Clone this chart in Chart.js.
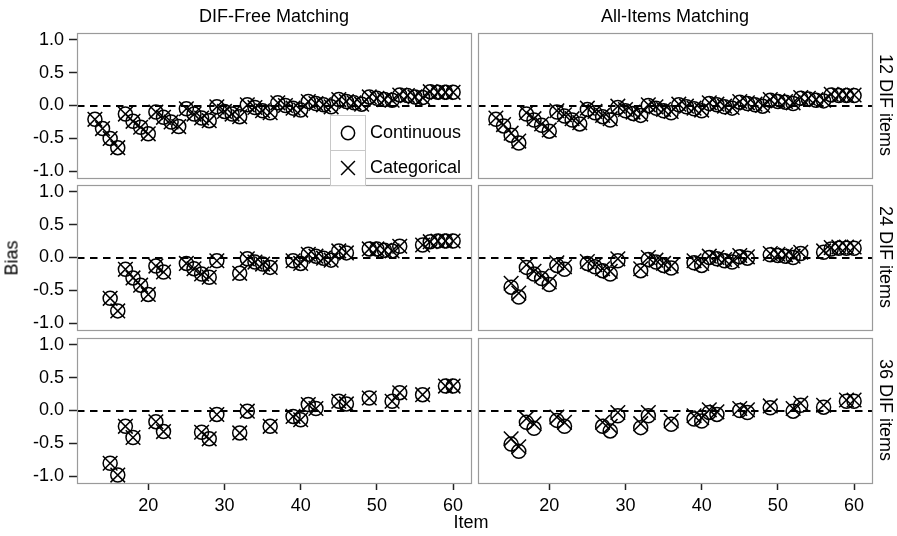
<!DOCTYPE html>
<html>
<head>
<meta charset="utf-8">
<title>Bias by item</title>
<script src="https://cdn.jsdelivr.net/npm/chart.js@4.4.1/dist/chart.umd.min.js"></script>
<style>
  body { margin: 0; background: #fff; }
  #wrap { position: relative; width: 897px; height: 536px; overflow: hidden;
          font-family: "Liberation Sans", Arial, Helvetica, sans-serif; color: #000; }
  #wrap canvas { position: absolute; left: 0; top: 0; }
  .lbl { position: absolute; font-size: 18px; white-space: nowrap; transform: translate(-50%, -50%); }
  .lbl.down { transform: translate(-50%, -50%) rotate(90deg); }
  .lbl.up { transform: translate(-50%, -50%) rotate(-90deg); }
</style>
</head>
<body>
<div id="wrap">
  <canvas id="p12ai" width="897" height="536"></canvas>
  <canvas id="p24df" width="897" height="536"></canvas>
  <canvas id="p24ai" width="897" height="536"></canvas>
  <canvas id="p36df" width="897" height="536"></canvas>
  <canvas id="p36ai" width="897" height="536"></canvas>
  <canvas id="p12df" width="897" height="536"></canvas>

  <div class="lbl" style="left:274px; top:16px;">DIF-Free Matching</div>
  <div class="lbl" style="left:675px; top:16px;">All-Items Matching</div>
  <div class="lbl down" style="left:885px; top:105px;">12 DIF items</div>
  <div class="lbl down" style="left:885px; top:257px;">24 DIF items</div>
  <div class="lbl down" style="left:885px; top:410px;">36 DIF items</div>
  <div class="lbl up" style="left:12px; top:258px;">Bias</div>
  <div class="lbl" style="left:471px; top:522px;">Item</div>
</div>

<script>
"use strict";

// items shown in each row (non-DIF items)
const items12 = [13, 14, 15, 16, 17, 18, 19, 20, 21, 22, 23, 24, 25, 26, 27, 28,
                 29, 30, 31, 32, 33, 34, 35, 36, 37, 38, 39, 40, 41, 42, 43, 44,
                 45, 46, 47, 48, 49, 50, 51, 52, 53, 54, 55, 56, 57, 58, 59, 60];
const items24 = [15, 16, 17, 18, 19, 20, 21, 22, 25, 26, 27, 28, 29, 32, 33, 34, 35, 36,
                 39, 40, 41, 42, 43, 44, 45, 46, 49, 50, 51, 52, 53, 56, 57, 58, 59, 60];
const items36 = [15, 16, 17, 18, 21, 22, 27, 28, 29, 32, 33, 36,
                 39, 40, 41, 42, 45, 46, 49, 52, 53, 56, 59, 60];

// DIF-free matching, 12 DIF items
const dfCont12 = [-0.21, -0.35, -0.50, -0.64, -0.13, -0.24, -0.33, -0.43, -0.10, -0.18, -0.25, -0.32,
                  -0.05, -0.13, -0.19, -0.23, -0.02, -0.09, -0.13, -0.17, 0.01, -0.03, -0.08, -0.11,
                  0.04, 0.00, -0.04, -0.07, 0.06, 0.03, 0.01, -0.02, 0.09, 0.06, 0.04, 0.02,
                  0.13, 0.11, 0.09, 0.08, 0.16, 0.15, 0.13, 0.12, 0.21, 0.20, 0.20, 0.20];
const dfCat12  = [-0.21, -0.35, -0.50, -0.64, -0.13, -0.24, -0.33, -0.43, -0.10, -0.18, -0.25, -0.32,
                  -0.05, -0.13, -0.19, -0.23, -0.02, -0.09, -0.13, -0.17, 0.01, -0.03, -0.08, -0.11,
                  0.04, 0.00, -0.04, -0.07, 0.06, 0.03, 0.01, -0.02, 0.09, 0.06, 0.04, 0.02,
                  0.13, 0.11, 0.09, 0.08, 0.16, 0.15, 0.13, 0.12, 0.21, 0.20, 0.20, 0.20];
// all-items matching, 12 DIF items
const aiCont12 = [-0.21, -0.31, -0.45, -0.57, -0.13, -0.22, -0.30, -0.39, -0.10, -0.16, -0.22, -0.28,
                  -0.06, -0.11, -0.17, -0.22, -0.03, -0.08, -0.12, -0.15, 0.00, -0.04, -0.08, -0.11,
                  0.01, -0.02, -0.05, -0.08, 0.03, 0.01, -0.02, -0.04, 0.05, 0.03, 0.01, -0.01,
                  0.08, 0.06, 0.05, 0.03, 0.11, 0.10, 0.08, 0.07, 0.16, 0.15, 0.15, 0.15];
const aiCat12  = [-0.19, -0.29, -0.42, -0.54, -0.11, -0.20, -0.28, -0.37, -0.08, -0.14, -0.20, -0.26,
                  -0.04, -0.09, -0.15, -0.20, -0.01, -0.06, -0.10, -0.13, 0.01, -0.02, -0.06, -0.09,
                  0.02, -0.01, -0.04, -0.07, 0.04, 0.02, -0.01, -0.03, 0.06, 0.04, 0.02, 0.00,
                  0.09, 0.07, 0.06, 0.04, 0.12, 0.11, 0.09, 0.08, 0.17, 0.16, 0.16, 0.16];

// 24 DIF items
const dfCont24 = [-0.62, -0.81, -0.18, -0.31, -0.42, -0.56, -0.13, -0.22, -0.09, -0.17, -0.25, -0.30,
                  -0.05, -0.24, -0.02, -0.07, -0.10, -0.15, -0.05, -0.09, 0.05, 0.02, -0.01, -0.04,
                  0.10, 0.07, 0.13, 0.13, 0.11, 0.10, 0.17, 0.19, 0.24, 0.25, 0.25, 0.25];
const dfCat24  = [-0.62, -0.81, -0.18, -0.31, -0.42, -0.56, -0.13, -0.22, -0.09, -0.17, -0.25, -0.30,
                  -0.05, -0.24, -0.02, -0.07, -0.10, -0.15, -0.05, -0.09, 0.05, 0.02, -0.01, -0.04,
                  0.10, 0.07, 0.13, 0.13, 0.11, 0.10, 0.17, 0.19, 0.24, 0.25, 0.25, 0.25];
const aiCont24 = [-0.45, -0.60, -0.15, -0.25, -0.32, -0.41, -0.12, -0.18, -0.09, -0.14, -0.20, -0.25,
                  -0.05, -0.20, -0.03, -0.07, -0.12, -0.16, -0.08, -0.12, 0.00, -0.02, -0.05, -0.07,
                  0.01, -0.01, 0.04, 0.03, 0.02, 0.00, 0.06, 0.08, 0.13, 0.14, 0.14, 0.14];
const aiCat24  = [-0.39, -0.54, -0.11, -0.21, -0.28, -0.37, -0.08, -0.14, -0.06, -0.11, -0.17, -0.21,
                  -0.02, -0.17, 0.00, -0.04, -0.09, -0.13, -0.05, -0.09, 0.02, 0.00, -0.03, -0.05,
                  0.03, 0.01, 0.06, 0.05, 0.04, 0.02, 0.08, 0.10, 0.15, 0.16, 0.16, 0.16];

// 36 DIF items
const dfCont36 = [-0.80, -0.98, -0.24, -0.41, -0.17, -0.32, -0.33, -0.43, -0.06, -0.34, -0.01, -0.24,
                  -0.09, -0.14, 0.09, 0.03, 0.14, 0.10, 0.19, 0.14, 0.27, 0.24, 0.37, 0.37];
const dfCat36  = [-0.80, -0.98, -0.24, -0.41, -0.17, -0.32, -0.33, -0.43, -0.06, -0.34, -0.01, -0.24,
                  -0.09, -0.14, 0.09, 0.03, 0.14, 0.10, 0.19, 0.14, 0.27, 0.24, 0.37, 0.37];
const aiCont36 = [-0.51, -0.62, -0.18, -0.27, -0.15, -0.24, -0.24, -0.31, -0.08, -0.26, -0.08, -0.21,
                  -0.13, -0.16, -0.03, -0.06, 0.00, -0.03, 0.04, -0.01, 0.08, 0.05, 0.14, 0.14];
const aiCat36  = [-0.43, -0.55, -0.12, -0.20, -0.10, -0.18, -0.18, -0.24, -0.03, -0.20, -0.03, -0.16,
                  -0.08, -0.11, 0.01, -0.02, 0.03, 0.01, 0.07, 0.03, 0.11, 0.08, 0.16, 0.16];

const seriesNames = ['Continuous', 'Categorical'];
const xTicks = [20, 30, 40, 50, 60];
const yTicks = [-1.0, -0.5, 0.0, 0.5, 1.0];
const xLimits = [10.65, 62.35];
const yLimits = [-1.1, 1.1];

const FONT = '"Liberation Sans", Arial, Helvetica, sans-serif';
const W = 897, H = 536;
const Y_AXIS_W = 60, X_AXIS_H = 40;

// panel frame + dashed zero reference line
const panelPlugin = {
  id: 'panelFrame',
  beforeDatasetsDraw(chart) {
    const { ctx, chartArea: a } = chart;
    const y = Math.round(chart.scales.y.getPixelForValue(0));
    ctx.save();
    ctx.strokeStyle = '#000';
    ctx.lineWidth = 1.8;
    ctx.setLineDash([7.5, 5.5]);
    ctx.beginPath();
    ctx.moveTo(a.left, y);
    ctx.lineTo(a.right, y);
    ctx.stroke();
    ctx.restore();
  },
  afterDraw(chart) {
    const { ctx, chartArea: a } = chart;
    ctx.save();
    ctx.strokeStyle = '#9a9a9a';
    ctx.lineWidth = 1.2;
    ctx.strokeRect(Math.round(a.left) + 0.5, Math.round(a.top) + 0.5,
                   Math.round(a.right - a.left), Math.round(a.bottom - a.top));
    ctx.restore();
  }
};

// boxed legend keys, drawn on the top-left panel's canvas
const keyLegend = {
  id: 'keyLegend',
  afterDraw(chart, args, opts) {
    const ctx = chart.ctx;
    const x0 = opts.x, y0 = opts.y, key = opts.key;
    chart.data.datasets.forEach((ds, i) => {
      const y = y0 + i * key;
      ctx.save();
      ctx.fillStyle = '#fff';
      ctx.fillRect(x0, y, key, key);
      ctx.strokeStyle = '#c8c8c8';
      ctx.lineWidth = 1;
      ctx.strokeRect(x0 + 0.5, y + 0.5, key, key);
      ctx.strokeStyle = '#000';
      ctx.fillStyle = 'rgba(0,0,0,0)';
      ctx.lineWidth = ds.pointBorderWidth;
      Chart.helpers.drawPoint(ctx, {
        pointStyle: ds.pointStyle,
        radius: ds.pointRadius * 0.95,
        rotation: 0,
        borderWidth: ds.pointBorderWidth
      }, x0 + key / 2 + 0.5, y + key / 2 + 0.5);
      ctx.fillStyle = '#000';
      ctx.font = '18px ' + FONT;
      ctx.textBaseline = 'middle';
      ctx.textAlign = 'left';
      ctx.fillText(ds.label, x0 + key + 5, y + key / 2 + 1);
      ctx.restore();
    });
  }
};

function toPoints(items, values) {
  return items.map((x, i) => ({ x: x, y: values[i] }));
}

function makePanel(id, rect, items, cont, cat, showX, showY, withLegend) {
  const ctx = document.getElementById(id).getContext('2d');
  const plugins = [panelPlugin];
  if (withLegend) plugins.push(keyLegend);

  return new Chart(ctx, {
    type: 'scatter',
    data: {
      datasets: [{
        label: seriesNames[0],
        data: toPoints(items, cont),
        pointStyle: 'circle',
        pointRadius: 7,
        pointBorderWidth: 1.5,
        pointBorderColor: '#000',
        pointBackgroundColor: 'rgba(0,0,0,0)'
      }, {
        label: seriesNames[1],
        data: toPoints(items, cat),
        pointStyle: 'crossRot',
        pointRadius: 10.3,
        pointBorderWidth: 1.5,
        pointBorderColor: '#000',
        pointBackgroundColor: 'rgba(0,0,0,0)'
      }]
    },
    options: {
      responsive: false,
      animation: false,
      events: [],
      layout: {
        autoPadding: false,
        padding: {
          left: rect.l - (showY ? Y_AXIS_W : 0),
          right: W - rect.r,
          top: rect.t,
          bottom: H - rect.b - (showX ? X_AXIS_H : 0)
        }
      },
      plugins: {
        legend: { display: false },
        tooltip: { enabled: false },
        keyLegend: { x: 330, y: 115, key: 35 }
      },
      scales: {
        x: {
          type: 'linear',
          min: xLimits[0],
          max: xLimits[1],
          display: showX,
          afterBuildTicks: s => { s.ticks = xTicks.map(v => ({ value: v })); },
          afterFit: s => { s.height = showX ? X_AXIS_H : 0; },
          border: { display: false },
          grid: { drawOnChartArea: false, drawTicks: true, tickLength: 7, tickWidth: 1.5, tickColor: '#222' },
          ticks: { color: '#000', padding: 5, maxRotation: 0, autoSkip: false,
                   font: { family: FONT, size: 18 } }
        },
        y: {
          type: 'linear',
          min: yLimits[0],
          max: yLimits[1],
          display: showY,
          afterBuildTicks: s => { s.ticks = yTicks.map(v => ({ value: v })); },
          afterFit: s => { s.width = showY ? Y_AXIS_W : 0; },
          border: { display: false },
          grid: { drawOnChartArea: false, drawTicks: true, tickLength: 8, tickWidth: 1.5, tickColor: '#222' },
          ticks: { color: '#000', padding: 5, autoSkip: false,
                   font: { family: FONT, size: 18 },
                   callback: v => v.toFixed(1) }
        }
      }
    },
    plugins: plugins
  });
}

const colL = { l: 77, r: 471 }, colR = { l: 478, r: 872 };
const rows = [{ t: 33, b: 178 }, { t: 185, b: 330 }, { t: 338, b: 483 }];
const rect = (c, r) => ({ l: c.l, r: c.r, t: r.t, b: r.b });

makePanel('p12ai', rect(colR, rows[0]), items12, aiCont12, aiCat12, false, false, false);
makePanel('p24df', rect(colL, rows[1]), items24, dfCont24, dfCat24, false, true, false);
makePanel('p24ai', rect(colR, rows[1]), items24, aiCont24, aiCat24, false, false, false);
makePanel('p36df', rect(colL, rows[2]), items36, dfCont36, dfCat36, true, true, false);
makePanel('p36ai', rect(colR, rows[2]), items36, aiCont36, aiCat36, true, false, false);
makePanel('p12df', rect(colL, rows[0]), items12, dfCont12, dfCat12, false, true, true);
</script>
</body>
</html>
